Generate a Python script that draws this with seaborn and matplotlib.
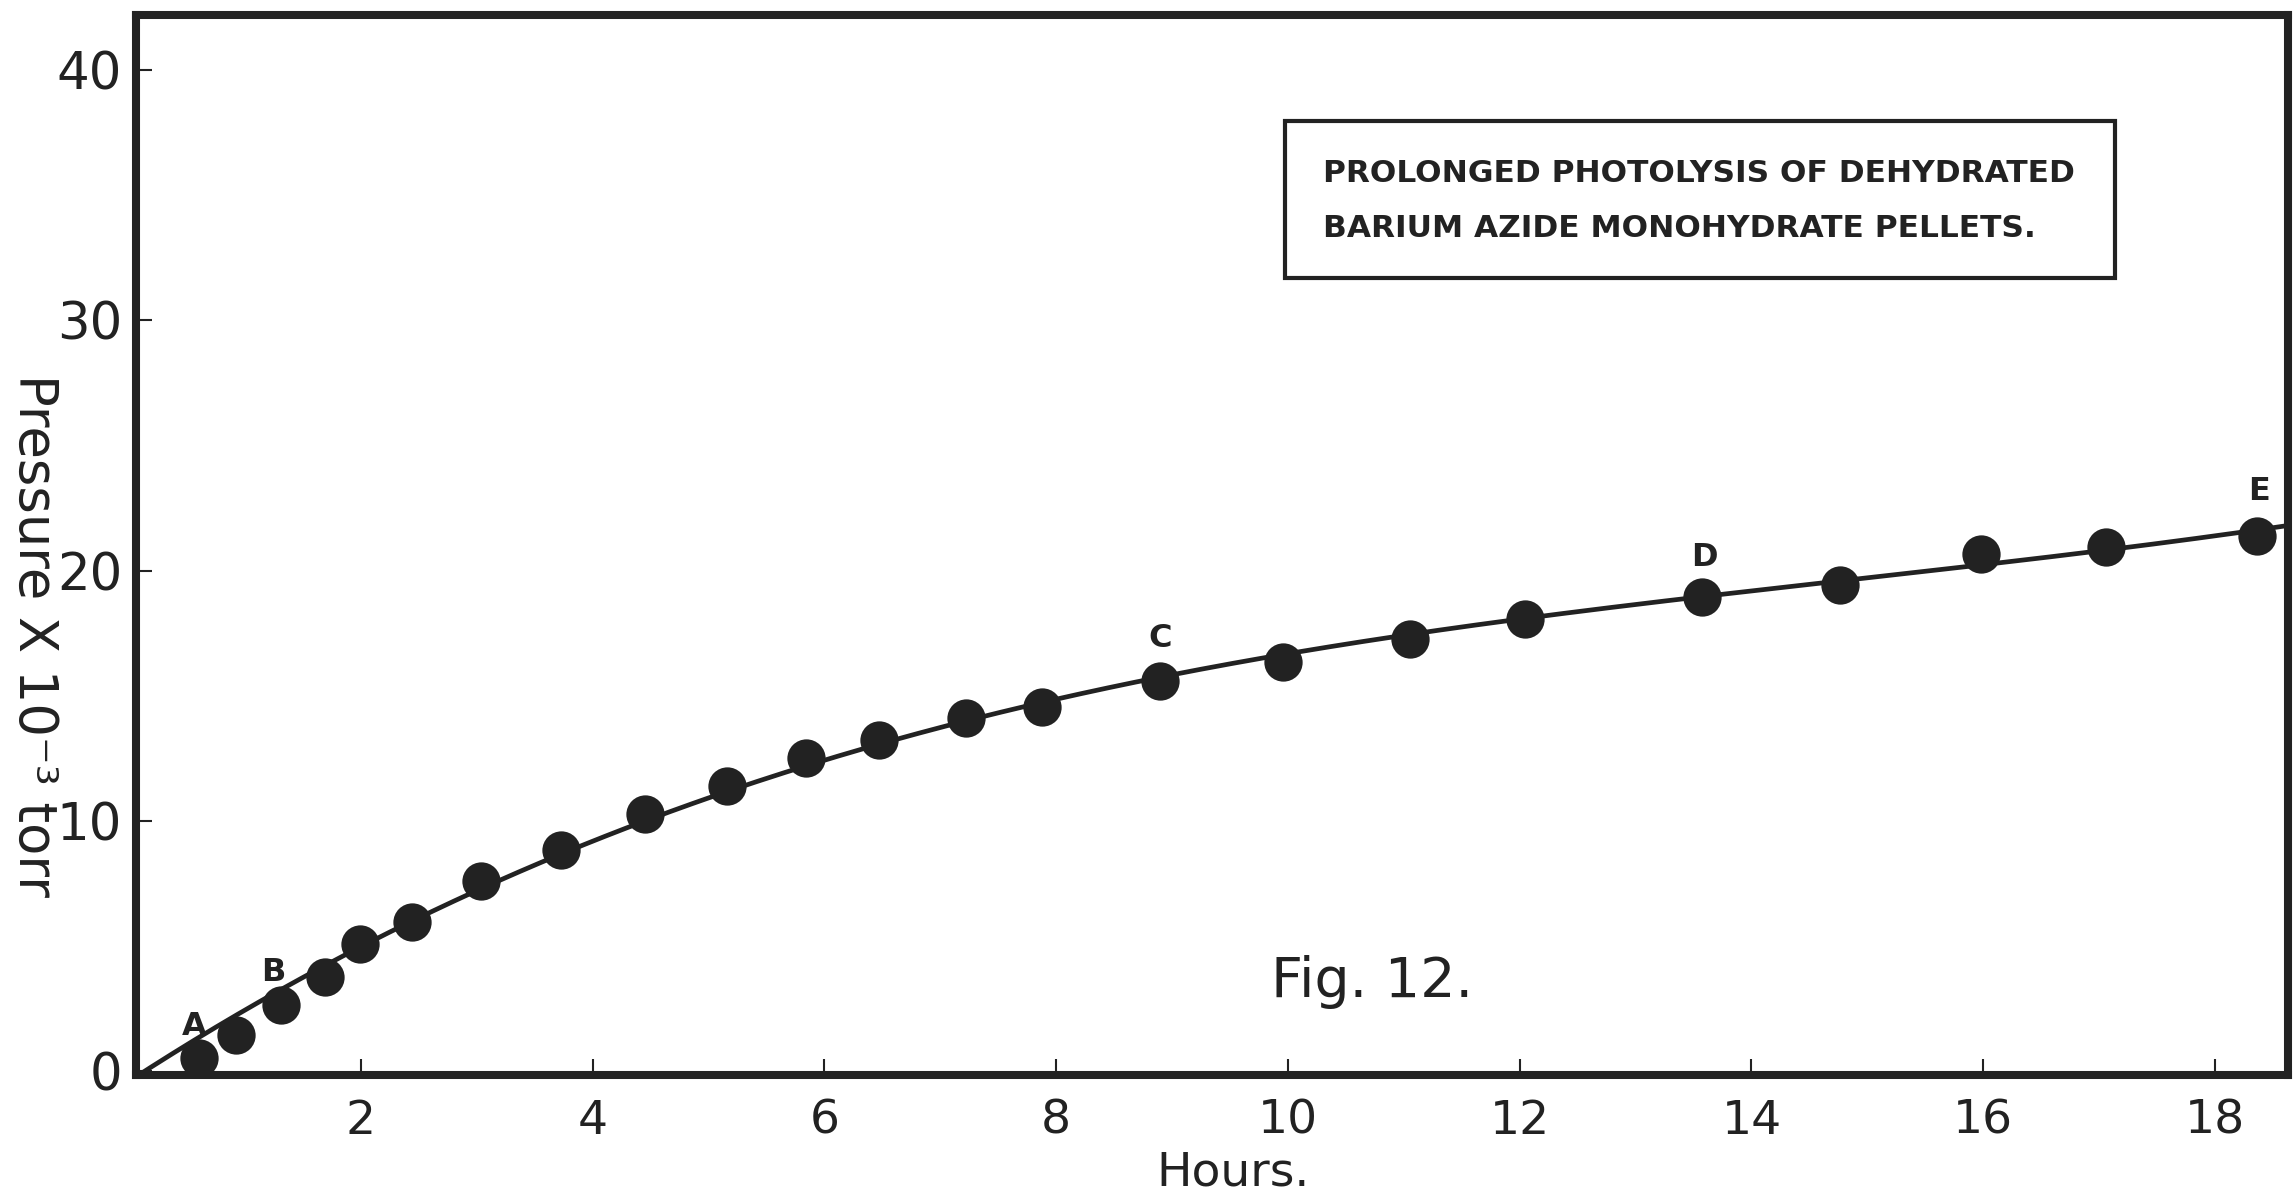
import numpy as np
import pandas as pd
import matplotlib
matplotlib.use("Agg")
import matplotlib.pyplot as plt
from matplotlib.patches import Rectangle
import seaborn as sns

# ---- data ----
hours = [0.60, 0.92, 1.31, 1.69, 1.99, 2.44, 3.04, 3.73, 4.45, 5.16, 5.84, 6.47,
         7.22, 7.88, 8.90, 9.96, 11.05, 12.05, 13.57, 14.76, 15.98, 17.06, 18.36]
pressure = [0.52, 1.45, 2.65, 3.78, 5.09, 5.98, 7.60, 8.84, 10.28, 11.41, 12.50, 13.24,
            14.10, 14.57, 15.61, 16.34, 17.27, 18.07, 18.96, 19.43, 20.66, 20.96, 21.40]
point_labels = {0: "A", 2: "B", 14: "C", 18: "D", 22: "E"}
label_offsets = {0: (-3.5, 23), 2: (-5.5, 23), 14: (0, 30), 18: (2, 28), 22: (1.5, 31.5)}
x_ticks = [2, 4, 6, 8, 10, 12, 14, 16, 18]
y_ticks = [0, 10, 20, 30, 40]
title_lines = ["PROLONGED PHOTOLYSIS OF DEHYDRATED", "BARIUM AZIDE MONOHYDRATE PELLETS."]
x_label = "Hours."
y_label = "Pressure X 10\u207b\u00b3 torr"
fig_label = "Fig. 12."

INK = "#222222"

sns.set_theme(style="white")
plt.rcParams["font.family"] = ["DejaVu Sans"]

df = pd.DataFrame({"Hours": hours, "Pressure": pressure})

# smooth curve through the origin and the measured points (least-squares fit)
fx = np.concatenate([[0.0], df["Hours"].to_numpy()])
fy = np.concatenate([[0.0], df["Pressure"].to_numpy()])
w = np.ones_like(fx); w[0] = 2.0
coef = np.polyfit(fx, fy, 3, w=w)
cx = np.linspace(0.0, 18.63, 400)
curve = pd.DataFrame({"Hours": cx, "Pressure": np.polyval(coef, cx)})

fig = plt.figure(figsize=(22.95, 11.95), dpi=100)
ax = fig.add_axes([0.05926, 0.10042, 0.93769, 0.88703])

sns.lineplot(data=curve, x="Hours", y="Pressure", ax=ax, color=INK, linewidth=3.4,
             sort=True, estimator=None)
sns.scatterplot(data=df, x="Hours", y="Pressure", ax=ax, color=INK, s=760,
                linewidth=0, zorder=5)

for i, lab in point_labels.items():
    ax.annotate(lab, (hours[i], pressure[i]), xytext=label_offsets[i],
                textcoords="offset points", ha="center", va="center",
                fontsize=23, fontweight="bold", color=INK)

ax.set_xlim(0.06, 18.63)
ax.set_ylim(-0.15, 42.2)
ax.set_xticks(x_ticks)
ax.set_yticks(y_ticks)
ax.set_xticklabels([str(t) for t in x_ticks])
ax.set_yticklabels([str(t) for t in y_ticks])
ax.tick_params(axis="x", direction="in", length=11.5, width=1.5, color=INK,
               labelsize=34, labelcolor=INK, pad=17, bottom=True, top=False)
ax.tick_params(axis="y", direction="in", length=11.5, width=1.5, color=INK,
               labelsize=37, labelcolor=INK, pad=10, left=True, right=False)

for sp in ax.spines.values():
    sp.set_linewidth(5.8)
    sp.set_color(INK)
    sp.set_visible(True)

ax.set_xlabel(x_label, fontsize=34, color=INK, va="top")
ax.xaxis.set_label_coords(0.510, -0.071)
ax.set_ylabel(y_label, fontsize=38, color=INK, rotation=-90, va="center", ha="center")
ax.yaxis.set_label_coords(-0.0474, 0.415)

# title box
fig.patches.append(Rectangle((0.5599, 0.7674), 0.3617, 0.1314, transform=fig.transFigure,
                             fill=False, edgecolor=INK, linewidth=3.0))
fig.text(0.5765, 0.8544, title_lines[0], fontsize=22.5, fontweight="bold", color=INK,
         ha="left", va="center")
fig.text(0.5765, 0.8084, title_lines[1], fontsize=22.5, fontweight="bold", color=INK,
         ha="left", va="center")

fig.text(0.5538, 0.1657, fig_label, fontsize=40, color=INK, ha="left", va="baseline")

fig.savefig("out.png", dpi=100, facecolor="white")
